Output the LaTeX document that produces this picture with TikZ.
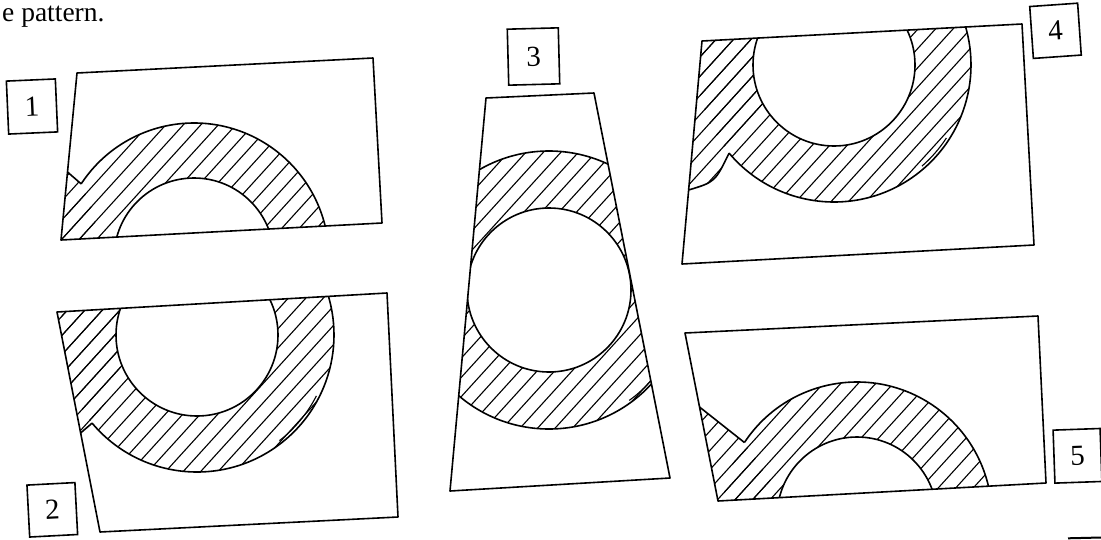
\documentclass[tikz,border=0pt]{standalone}
\usepackage{fontspec}
\setmainfont{Liberation Serif}
\usetikzlibrary{calc}
\newcommand\hatchall{\foreach \c in {0,17.5,...,1750} {\draw[hatchline] (\c,-20) -- ++(-600,660);}}
\begin{document}
\begin{tikzpicture}[x=1pt,y=-1pt,
  edge/.style={line width=1.6pt, line join=round},
  thinedge/.style={line width=1.1pt},
  hatchline/.style={line width=1.1pt},
  numbox/.style={draw, line width=1.6pt, inner sep=0pt, font=\fontsize{29}{32}\selectfont},
]
\useasboundingbox (0,0) rectangle (1101,539);

\node[anchor=base west, inner sep=0pt, font=\fontsize{27.5}{30}\selectfont] (cap) at (2,21.5) {e pattern.};

% ---------- figure 1 ----------
\coordinate (a1) at (77,73); \coordinate (a2) at (373,58);
\coordinate (a3) at (382,223); \coordinate (a4) at (61,240);
\coordinate (C1) at (194,258);
\begin{scope}
  \clip (a1) -- (a2) -- (a3) -- (a4) -- cycle;
  \begin{scope}[even odd rule]
    \clip (-50,-50) rectangle (1150,600) (C1) circle[radius=80];
    \begin{scope}[nonzero rule]\clip (C1) circle[radius=135]; \hatchall \end{scope}
    \begin{scope}[nonzero rule]\clip (55,160) -- (81.2,183.9) -- (95,215) -- (95,250) -- (50,250) -- cycle; \hatchall \end{scope}
  \end{scope}
  \draw[edge] (C1) circle[radius=80];
  \draw[edge] (C1) ++(213.3:135) arc[start angle=213.3,end angle=350,radius=135];
\end{scope}
\draw[edge] (a1) -- (a2) -- (a3) -- (a4) -- cycle;
\coordinate (n1a) at (67.5,172); \coordinate (n1b) at (81.2,183.9);
\draw[edge] (n1a) -- (n1b);
\node[numbox, minimum width=49pt, minimum height=53pt, rotate=2.5] (b1) at (32,106.5) {1};

% ---------- figure 2 ----------
\coordinate (d1) at (57,312); \coordinate (d2) at (387,293);
\coordinate (d3) at (398,517); \coordinate (d4) at (100,532);
\coordinate (C2) at (197,335);
\begin{scope}
  \clip (d1) -- (d2) -- (d3) -- (d4) -- cycle;
  \begin{scope}[even odd rule]
    \clip (-50,-50) rectangle (1150,600) (C2) circle[radius=81];
    \begin{scope}[nonzero rule]\clip (C2) circle[radius=137]; \hatchall \end{scope}
    \begin{scope}[nonzero rule]\clip (40,300) -- (40,468) -- (92.1,423.1) -- (120,380) -- (120,300) -- cycle; \hatchall \end{scope}
  \end{scope}
  \draw[edge] (C2) circle[radius=81];
  \draw[edge] (C2) ++(140:137) arc[start angle=140,end angle=-30,radius=137];
  \draw[thinedge] (C2) ++(27:134) arc[start angle=27,end angle=52,radius=134];
\end{scope}
\draw[edge] (d1) -- (d2) -- (d3) -- (d4) -- cycle;
\coordinate (n2a) at (80.6,433); \coordinate (n2b) at (92.1,423.1);
\draw[edge] (n2a) -- (n2b);
\node[numbox, minimum width=48pt, minimum height=52pt, rotate=3] (b2) at (52.3,509.8) {2};

% ---------- figure 3 ----------
\coordinate (t1) at (486,98); \coordinate (t2) at (594,93);
\coordinate (t3) at (670,478); \coordinate (t4) at (450,491);
\coordinate (C3) at (549,290);
\begin{scope}
  \clip (t1) -- (t2) -- (t3) -- (t4) -- cycle;
  \begin{scope}[even odd rule]
    \clip (-50,-50) rectangle (1150,600) (C3) circle[radius=82];
    \begin{scope}[nonzero rule]\clip (C3) circle[radius=139]; \hatchall \end{scope}
  \end{scope}
  \draw[edge] (C3) circle[radius=82];
  \draw[edge] (C3) circle[radius=139];
  \draw[thinedge] (C3) ++(41:136.5) arc[start angle=41,end angle=54,radius=136.5];
\end{scope}
\draw[edge] (t1) -- (t2) -- (t3) -- (t4) -- cycle;
\node[numbox, minimum width=51pt, minimum height=56pt, rotate=1.5] (b3) at (533.5,56.5) {3};

% ---------- figure 4 ----------
\coordinate (f1) at (702,41); \coordinate (f2) at (1022,24);
\coordinate (f3) at (1034,245); \coordinate (f4) at (682,264);
\coordinate (C4) at (834,65);
\begin{scope}
  \clip (f1) -- (f2) -- (f3) -- (f4) -- cycle;
  \begin{scope}[even odd rule]
    \clip (-50,-50) rectangle (1150,600) (C4) circle[radius=81];
    \begin{scope}[nonzero rule]\clip (C4) circle[radius=137]; \hatchall \end{scope}
    \begin{scope}[nonzero rule]\clip (660,20) -- (660,200) -- (688.6,190) .. controls (715,182) .. (729.1,153.1) -- (765,110) -- (765,20) -- cycle; \hatchall \end{scope}
  \end{scope}
  \draw[edge] (C4) circle[radius=81];
  \draw[edge] (C4) ++(140:137) arc[start angle=140,end angle=-30,radius=137];
  \draw[thinedge] (C4) ++(33:134) arc[start angle=33,end angle=49,radius=134];
\end{scope}
\draw[edge] (f1) -- (f2) -- (f3) -- (f4) -- cycle;
\coordinate (n4a) at (688.6,190); \coordinate (n4b) at (729.1,153.1);
\draw[edge] (n4a) .. controls (715,182) .. (n4b);
\node[numbox, minimum width=48pt, minimum height=52pt, rotate=4] (b4) at (1055.5,30.8) {4};

% ---------- figure 5 ----------
\coordinate (g1) at (685,333); \coordinate (g2) at (1038,316);
\coordinate (g3) at (1046,483); \coordinate (g4) at (718,501);
\coordinate (C5) at (857,517);
\begin{scope}
  \clip (g1) -- (g2) -- (g3) -- (g4) -- cycle;
  \begin{scope}[even odd rule]
    \clip (-50,-50) rectangle (1150,600) (C5) circle[radius=80];
    \begin{scope}[nonzero rule]\clip (C5) circle[radius=135]; \hatchall \end{scope}
    \begin{scope}[nonzero rule]\clip (680,391.6) -- (744.4,442.5) -- (770,480) -- (770,520) -- (680,520) -- cycle; \hatchall \end{scope}
  \end{scope}
  \draw[edge] (C5) circle[radius=80];
  \draw[edge] (C5) ++(213.5:135) arc[start angle=213.5,end angle=350,radius=135];
\end{scope}
\draw[edge] (g1) -- (g2) -- (g3) -- (g4) -- cycle;
\coordinate (n5a) at (699.5,407); \coordinate (n5b) at (744.4,442.5);
\draw[edge] (n5a) -- (n5b);
\node[numbox, minimum width=47pt, minimum height=53pt, rotate=2] (b5) at (1077.5,455.8) {5};

% stray mark at bottom right
\coordinate (s1) at (1068,538.3); \coordinate (s2) at (1101,537.5);
\draw[line width=2pt] (s1) -- (s2);
\end{tikzpicture}
\end{document}
